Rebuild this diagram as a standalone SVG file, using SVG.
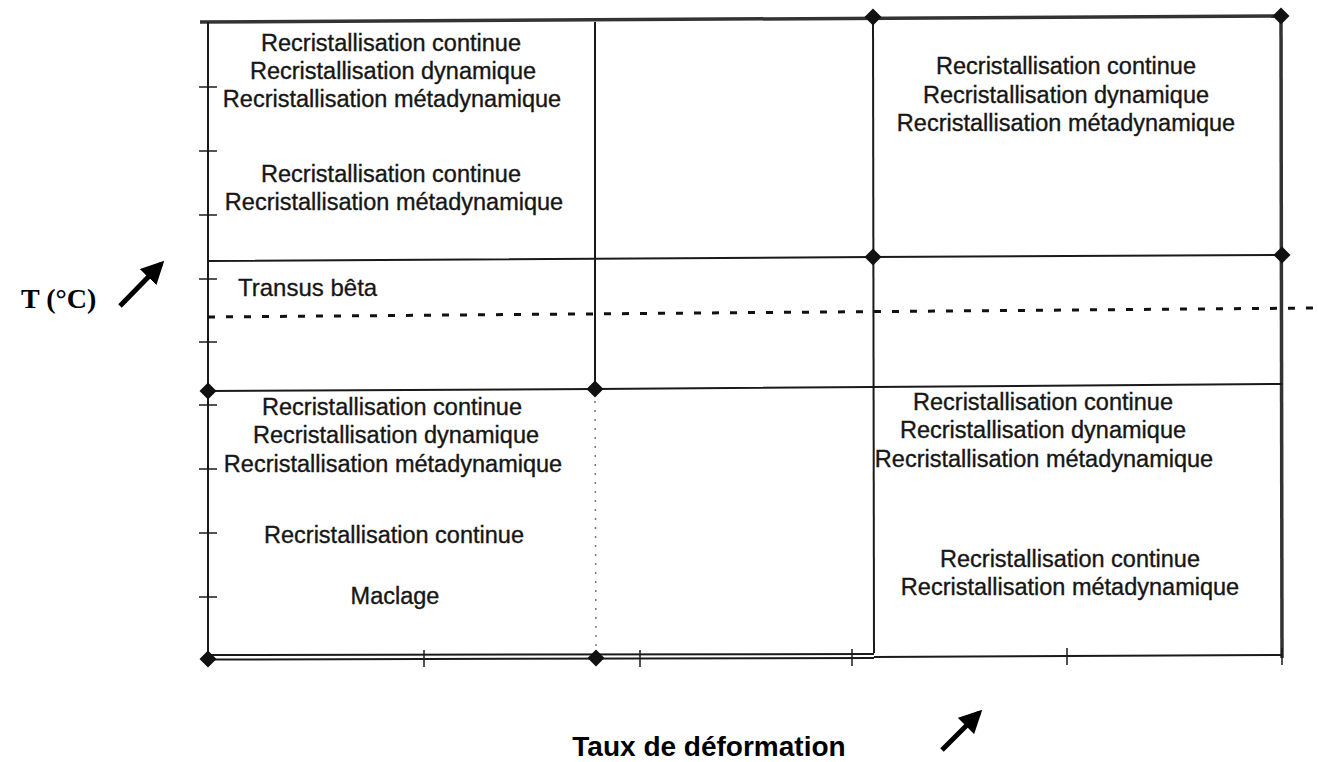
<svg xmlns="http://www.w3.org/2000/svg" width="1318" height="762" viewBox="0 0 1318 762">
<style>
  .lbl { font-family: "Liberation Sans", Arial, sans-serif; font-size: 23.5px; fill: #161616; stroke: #161616; stroke-width: 0.35; text-anchor: middle; }
  .ln { stroke: #1a1a1a; stroke-width: 2; fill: none; }
  .thick { stroke: #333; stroke-width: 3.5; fill: none; }
  .tick { stroke: #1a1a1a; stroke-width: 1.5; }
  .dot { stroke: #777; stroke-width: 1.5; stroke-dasharray: 2 7; fill: none; }
  .dash { stroke: #111; stroke-width: 3; stroke-dasharray: 7 11; fill: none; }
  .dia { fill: #111; }
  .arrow { stroke: #000; stroke-width: 5; fill: none; }
</style>
<defs>
  <marker id="ah" viewBox="0 0 10 10" refX="8" refY="5" markerWidth="4.6" markerHeight="4.6" orient="auto" markerUnits="strokeWidth">
    <path d="M0,0 L10,5 L0,10 Z" fill="#000"/>
  </marker>
  <path id="d" d="M0,-8.5 L8.5,0 L0,8.5 L-8.5,0 Z"/>
</defs>
<rect width="1318" height="762" fill="#fff"/>

<g id="connectors">
  <line class="thick" x1="200" y1="22" x2="1282" y2="16"/>
  <line class="thick" x1="1281" y1="16" x2="1282" y2="658"/>
  <line class="ln" x1="208" y1="22" x2="208" y2="660"/>
  <line class="ln" x1="595" y1="22" x2="595" y2="389"/>
  <line class="dot" x1="595" y1="392" x2="596" y2="655"/>
  <line class="ln" x1="873" y1="17" x2="874" y2="653"/>
  <polyline class="ln" points="208,261 873,257 1282,255"/>
  <polyline class="ln" points="208,391 595,389 1282,384"/>
  <line class="dash" x1="208" y1="317" x2="1318" y2="308"/>
  <line class="ln" x1="208" y1="655" x2="874" y2="654"/>
  <line class="ln" x1="208" y1="659.5" x2="874" y2="658"/>
  <line class="ln" x1="874" y1="657" x2="1282" y2="655"/>
  <g class="tick">
    <line x1="199" y1="87" x2="217" y2="87"/>
    <line x1="199" y1="151" x2="217" y2="151"/>
    <line x1="199" y1="215" x2="217" y2="215"/>
    <line x1="199" y1="279" x2="217" y2="279"/>
    <line x1="199" y1="342" x2="217" y2="342"/>
    <line x1="199" y1="405" x2="217" y2="405"/>
    <line x1="199" y1="469" x2="217" y2="469"/>
    <line x1="199" y1="533" x2="217" y2="533"/>
    <line x1="199" y1="597" x2="217" y2="597"/>
    <line x1="424" y1="650" x2="424" y2="667"/>
    <line x1="640" y1="650" x2="640" y2="667"/>
    <line x1="852" y1="649" x2="852" y2="666"/>
    <line x1="1067" y1="648" x2="1067" y2="665"/>
    <line x1="1282" y1="648" x2="1282" y2="665"/>
  </g>
  <g class="dia">
    <use href="#d" x="873" y="17"/>
    <use href="#d" x="1281" y="16"/>
    <use href="#d" x="873" y="257"/>
    <use href="#d" x="1282" y="255"/>
    <use href="#d" x="208" y="391"/>
    <use href="#d" x="595" y="389"/>
    <use href="#d" x="208" y="659"/>
    <use href="#d" x="596" y="658"/>
  </g>
  <line class="arrow" x1="120" y1="306" x2="161" y2="264" marker-end="url(#ah)"/>
  <line class="arrow" x1="942" y1="750" x2="979" y2="713" marker-end="url(#ah)"/>
</g>

<g id="axis-y-label">
  <text x="21" y="308" font-family="Liberation Serif, 'Times New Roman', serif" font-weight="bold" font-size="28" fill="#000">T (°C)</text>
</g>
<g id="axis-x-label">
  <text x="709" y="756" font-family="Liberation Sans, Arial, sans-serif" font-weight="bold" font-size="28" fill="#000" text-anchor="middle">Taux de déformation</text>
</g>
<g id="transus">
  <text x="238" y="296" font-family="Liberation Sans, Arial, sans-serif" font-size="24" fill="#161616" stroke="#161616" stroke-width="0.3">Transus bêta</text>
</g>

<g id="cell-top-left-1">
  <text class="lbl" x="391" y="51">Recristallisation continue</text>
  <text class="lbl" x="393" y="79">Recristallisation dynamique</text>
  <text class="lbl" x="392" y="107">Recristallisation métadynamique</text>
</g>
<g id="cell-top-left-2">
  <text class="lbl" x="391" y="182">Recristallisation continue</text>
  <text class="lbl" x="394" y="210">Recristallisation métadynamique</text>
</g>
<g id="cell-top-right">
  <text class="lbl" x="1066" y="74">Recristallisation continue</text>
  <text class="lbl" x="1066" y="103">Recristallisation dynamique</text>
  <text class="lbl" x="1066" y="131">Recristallisation métadynamique</text>
</g>
<g id="cell-bottom-left-1">
  <text class="lbl" x="392" y="415">Recristallisation continue</text>
  <text class="lbl" x="396" y="443">Recristallisation dynamique</text>
  <text class="lbl" x="393" y="472">Recristallisation métadynamique</text>
</g>
<g id="cell-bottom-left-2">
  <text class="lbl" x="394" y="543">Recristallisation continue</text>
  <text class="lbl" x="395" y="604">Maclage</text>
</g>
<g id="cell-bottom-right-1">
  <text class="lbl" x="1043" y="410">Recristallisation continue</text>
  <text class="lbl" x="1043" y="438">Recristallisation dynamique</text>
  <text class="lbl" x="1044" y="467">Recristallisation métadynamique</text>
</g>
<g id="cell-bottom-right-2">
  <text class="lbl" x="1070" y="567">Recristallisation continue</text>
  <text class="lbl" x="1070" y="595">Recristallisation métadynamique</text>
</g>
</svg>
